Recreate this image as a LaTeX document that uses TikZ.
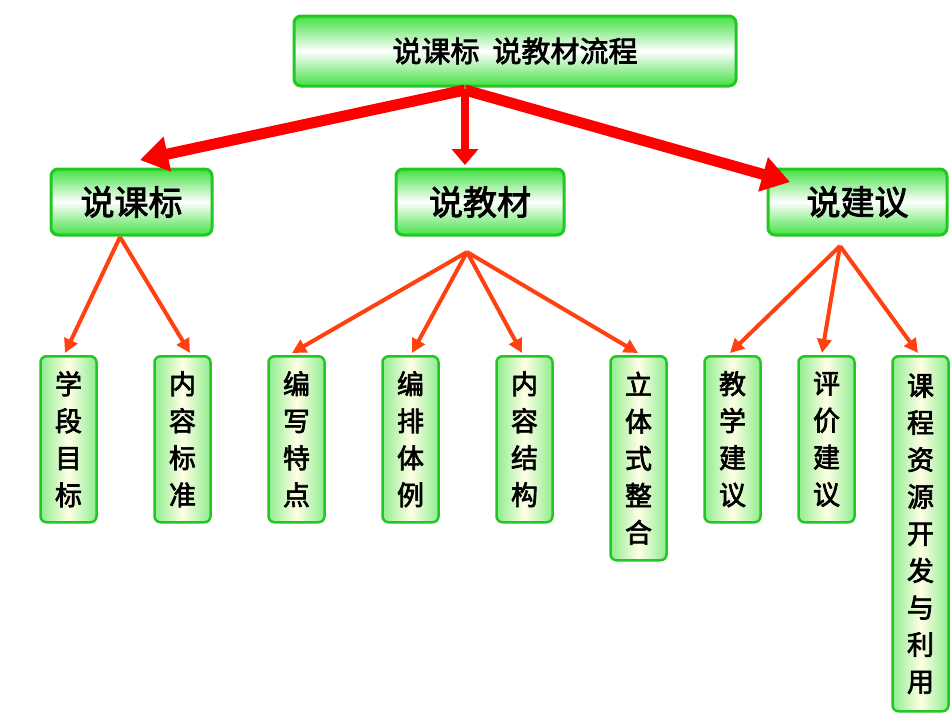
\documentclass[tikz,border=0pt]{standalone}
\usepackage{fontspec}
\newfontfamily\cjk{Noto Sans CJK SC}[FakeBold=2.5]
\usetikzlibrary{arrows.meta}
\definecolor{gb}{HTML}{22C822}
\definecolor{gf}{HTML}{44E044}
\definecolor{ar}{HTML}{FF4010}
\tikzset{
 hbox/.style={draw=gb,line width=3pt,rounded corners=7pt,top color=gf,bottom color=gf,middle color=white,font=\cjk\fontsize{34}{36}\selectfont,inner sep=0pt},
 leaf/.style={draw=gb,line width=2.5pt,rounded corners=6pt,left color=gf!60,right color=gf!60,middle color=white!90!yellow,font=\cjk\fontsize{27}{37}\selectfont,inner sep=0pt,align=center,anchor=north},
 bigarr/.style={draw=red,line width=11pt,-{Triangle[length=28pt,width=34pt]}},
 thinarr/.style={draw=ar,line width=4pt,-{Triangle[length=14pt,width=14pt]}},
}
\begin{document}
\begin{tikzpicture}[x=1pt,y=-1pt]
\useasboundingbox (0,0) rectangle (950,713);
\node[hbox,minimum width=442,minimum height=70,font=\cjk\fontsize{29}{32}\selectfont] (top) at (515,51) {说课标\ \ 说教材流程};
\node[hbox,minimum width=161,minimum height=66] (k) at (131.5,202) {说课标};
\node[hbox,minimum width=168,minimum height=66] (j) at (480,202) {说教材};
\node[hbox,minimum width=179,minimum height=66] (y) at (857.5,202) {说建议};
\coordinate (s) at (465,90);
\draw[bigarr] (s) -- (140,160);
\draw[bigarr,line width=8pt,-{Triangle[length=16pt,width=26pt]}] (s) -- (465,165);
\draw[bigarr] (s) -- (790,182);
\def\leaf#1#2#3#4{\node[leaf,minimum width=56,minimum height=#3] (#1) at (#2,355) {#4};}
\leaf{a}{68.5}{166}{学\\段\\目\\标}
\leaf{b}{182.5}{166}{内\\容\\标\\准}
\leaf{c}{296.5}{166}{编\\写\\特\\点}
\leaf{d}{410.5}{166}{编\\排\\体\\例}
\leaf{e}{524.5}{166}{内\\容\\结\\构}
\leaf{f}{638.5}{204}{立\\体\\式\\整\\合}
\leaf{g}{732.5}{166}{教\\学\\建\\议}
\leaf{h}{826.5}{166}{评\\价\\建\\议}
\leaf{i}{920.5}{355}{课\\程\\资\\源\\开\\发\\与\\利\\用}
\coordinate (k0) at (120,237);
\coordinate (j0) at (467,252);
\coordinate (y0) at (840,246);
\draw[thinarr] (k0) -- (65,353);
\draw[thinarr] (k0) -- (190,353);
\draw[thinarr] (j0) -- (292,353);
\draw[thinarr] (j0) -- (412,353);
\draw[thinarr] (j0) -- (522,353);
\draw[thinarr] (j0) -- (638,353);
\draw[thinarr] (y0) -- (730,353);
\draw[thinarr] (y0) -- (822,353);
\draw[thinarr] (y0) -- (918,353);
\end{tikzpicture}
\end{document}
